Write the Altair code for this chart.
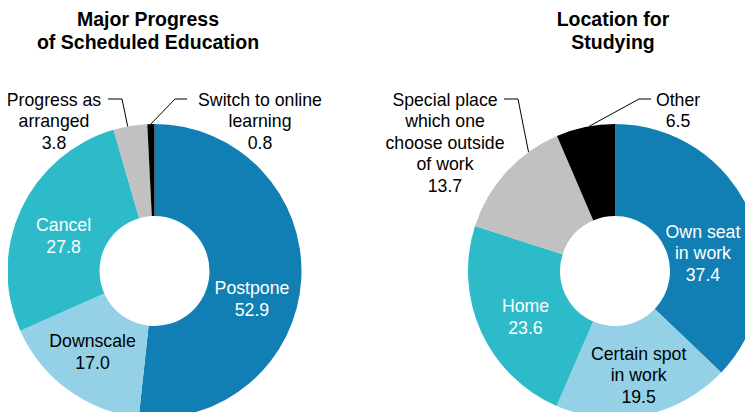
import math
import altair as alt
import pandas as pd

# ---------------- data ----------------
left_title = "Major Progress\nof Scheduled Education"
left_categories = ["Postpone", "Downscale", "Cancel", "Progress as arranged", "Switch to online learning"]
left_labels = ["Postpone", "Downscale", "Cancel", "Progress as\narranged", "Switch to online\nlearning"]
left_values = [52.9, 17.0, 27.8, 3.8, 0.8]

right_title = "Location for\nStudying"
right_categories = ["Own seat in work", "Certain spot in work", "Home",
                    "Special place which one choose outside of work", "Other"]
right_labels = ["Own seat\nin work", "Certain spot\nin work", "Home",
                "Special place\nwhich one\nchoose outside\nof work", "Other"]
right_values = [37.4, 19.5, 23.6, 13.7, 6.5]

# ---------------- style / layout ----------------
palette = ["#127fb4", "#94d1e6", "#2dbbca", "#c0c1c0", "#000000"]
inside_text_colors = ["#ffffff", "#000000", "#ffffff"]
FONT = "Liberation Sans"
M = 8                      # page margin
W, H = 737, 404
R_OUT, R_IN = 147, 55
LABEL_SIZE, LINE_H = 17.7, 21.5
TITLE_SIZE, TITLE_LH = 19.5, 22.5
TITLE_BASE = 26.0
OUT_BASE = 105.5

panels = {
    "left": dict(cats=left_categories, labels=left_labels, values=left_values, title=left_title,
                 center=(154.5, 271), title_x=148,
                 inside=[(13.5, 101.7), (1.0, 102.8), (-4.4, 97.1)],
                 outside={3: dict(tx=54, elbow=(122, 99), end=(108, 99), nudge=-1.0),
                          4: dict(tx=260, elbow=(175, 99), end=(187, 99), nudge=0.0)}),
    "right": dict(cats=right_categories, labels=right_labels, values=right_values, title=right_title,
                  center=(615, 271), title_x=613,
                  inside=[(12.5, 89.5), (-1.2, 108.1), (-3.3, 101.1)],
                  outside={3: dict(tx=445, elbow=(518, 99), end=(504, 99), nudge=11.7),
                           4: dict(tx=678, elbow=(639, 99), end=(651, 99), nudge=1.5)}),
}


def polar(center, r, deg):
    a = math.radians(deg)
    return center[0] + r * math.sin(a), center[1] - r * math.cos(a)


layers = []
inside_rows, outside_rows, line_rows, title_rows = [], [], [], []
all_domain, all_range = [], []

for key, p in panels.items():
    cx, cy = p["center"]
    df = pd.DataFrame({"cat": p["cats"], "value": p["values"], "idx": range(len(p["cats"]))})
    all_domain += p["cats"]
    all_range += palette
    layers.append((df, cx, cy))

    total = sum(p["values"])
    cum = 0.0
    for i, (lab, v) in enumerate(zip(p["labels"], p["values"])):
        mid = (cum + v / 2) / total * 360
        cum += v
        text = f"{lab}\n{v:.1f}"
        n_lines = text.count("\n") + 1
        if i < 3:
            nudge, r = p["inside"][i]
            x, y = polar((cx, cy), r, mid + nudge)
            y_first = y - (n_lines - 1) * LINE_H / 2
            inside_rows.append(dict(x=x - M, y=y_first - M, t=text, c=inside_text_colors[i]))
        else:
            o = p["outside"][i]
            outside_rows.append(dict(x=o["tx"] - M, y=OUT_BASE - M, t=text))
            ax, ay = polar((cx, cy), R_OUT, mid + o["nudge"])
            lid = f"{key}{i}"
            for s, (px, py) in enumerate([(ax, ay), o["elbow"], o["end"]]):
                line_rows.append(dict(id=lid, s=s, x=px - M, y=py - M))
    title_rows.append(dict(x=p["title_x"] - M, y=TITLE_BASE - M, t=p["title"]))

color_scale = alt.Scale(domain=all_domain, range=all_range)
arcs = [
    alt.Chart(df).mark_arc(outerRadius=R_OUT, innerRadius=R_IN).encode(
        theta=alt.Theta("value:Q", stack=True),
        color=alt.Color("cat:N", legend=None, scale=color_scale),
        order=alt.Order("idx:Q"),
        x=alt.value(cx - M),
        y=alt.value(cy - M),
    )
    for df, cx, cy in layers
]

X = lambda: alt.X("x:Q", scale=None, axis=None)
Y = lambda: alt.Y("y:Q", scale=None, axis=None)

inside_text = alt.Chart(pd.DataFrame(inside_rows)).mark_text(
    font=FONT, fontSize=LABEL_SIZE, lineBreak="\n", lineHeight=LINE_H,
    align="center", baseline="middle").encode(
    x=X(), y=Y(), text="t:N", color=alt.Color("c:N", scale=None))

outside_text = alt.Chart(pd.DataFrame(outside_rows)).mark_text(
    font=FONT, fontSize=LABEL_SIZE, lineBreak="\n", lineHeight=LINE_H,
    align="center", baseline="alphabetic", color="#000000").encode(
    x=X(), y=Y(), text="t:N")

leaders = alt.Chart(pd.DataFrame(line_rows)).mark_line(
    color="#000000", strokeWidth=1).encode(
    x=X(), y=Y(), detail="id:N", order="s:Q")

titles = alt.Chart(pd.DataFrame(title_rows)).mark_text(
    font=FONT, fontSize=TITLE_SIZE, fontWeight="bold", lineBreak="\n", lineHeight=TITLE_LH,
    align="center", baseline="alphabetic", color="#000000").encode(
    x=X(), y=Y(), text="t:N")

chart = alt.layer(*arcs, leaders, inside_text, outside_text, titles).resolve_scale(
    theta="independent"
).properties(
    width=W, height=H, padding=0, autosize=alt.AutoSizeParams(type="none"),
    background="#ffffff"
).configure_view(stroke=None)

chart.save("out.html", embed_options={"renderer": "svg", "actions": False})
